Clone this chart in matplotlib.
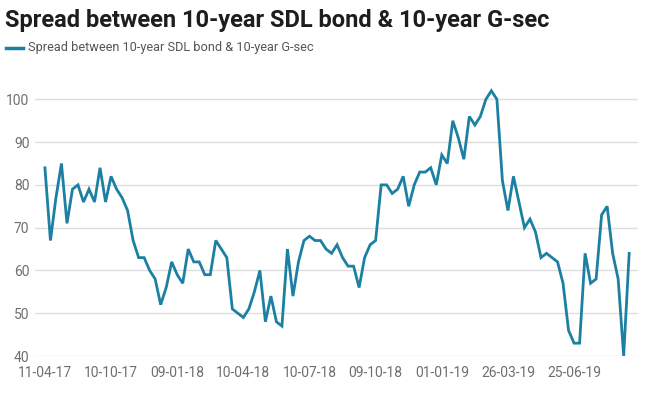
import matplotlib.pyplot as plt
import numpy as np

# spread series (bps), one value per observation
spread = [84, 67, 77, 85, 71, 79, 80, 76, 79, 76, 84, 76, 82, 79, 77, 74,
          67, 63, 63, 60, 58, 52, 56, 62, 59, 57, 65, 62, 62, 59, 59, 67,
          65, 63, 51, 50, 49, 51, 55, 60, 48, 54, 48, 47, 65, 54, 62, 67,
          68, 67, 67, 65, 64, 66, 63, 61, 61, 56, 63, 66, 67, 80, 80, 78,
          79, 82, 75, 80, 83, 83, 84, 80, 87, 85, 95, 91, 86, 96, 94, 96,
          100, 102, 100, 81, 74, 82, 76, 70, 72, 69, 63, 64, 63, 62, 57, 46,
          43, 43, 64, 57, 58, 73, 75, 64, 58, 40, 64]
tick_labels = ['11-04-17', '10-10-17', '09-01-18', '10-04-18', '10-07-18',
               '09-10-18', '01-01-19', '26-03-19', '25-06-19']
tick_every = 12
y_ticks = [40, 50, 60, 70, 80, 90, 100]

series_name = 'Spread between 10-year SDL bond & 10-year G-sec'
line_color = '#1b80a2'
font = ['Roboto', 'DejaVu Sans']

x = np.arange(len(spread))

fig = plt.figure(figsize=(6.51, 3.93), dpi=100)
ax = fig.add_axes([35 / 651, 1 - 356 / 393, (638 - 35) / 651, (356 - 86.5) / 393])

ax.plot(x, spread, color=line_color, linewidth=2.0, solid_joinstyle='miter')

ax.set_xlim(-1.8, len(spread) + 0.6)
ax.set_ylim(40, 103)
ax.set_yticks(y_ticks)
ax.set_xticks(x[::tick_every])
ax.set_xticklabels(tick_labels, family=font, fontsize=10, color='#6f6f6f')
ax.set_yticklabels([str(v) for v in y_ticks], family=font, fontsize=10,
                   color='#6f6f6f')
ax.tick_params(axis='both', length=0)
ax.tick_params(axis='x', pad=7)
ax.tick_params(axis='y', pad=4)

ax.grid(axis='y', color='#dedede', linewidth=1.0)
ax.set_axisbelow(True)
for side in ['top', 'right', 'left', 'bottom']:
    ax.spines[side].set_visible(False)

# title and legend line
fig.text(5 / 651, 1 - 20 / 393, series_name,
         family=font, fontweight='bold', fontsize=17, color='#1d1d1d',
         va='center', ha='left')
fig.add_artist(plt.Line2D([6 / 651, 23 / 651], [1 - 48 / 393, 1 - 48 / 393],
                          color=line_color, linewidth=2.5))
fig.text(28 / 651, 1 - 48 / 393, series_name, family=font, fontsize=9.2,
         color='#555555', va='center', ha='left')

fig.savefig('out.png', dpi=100)
